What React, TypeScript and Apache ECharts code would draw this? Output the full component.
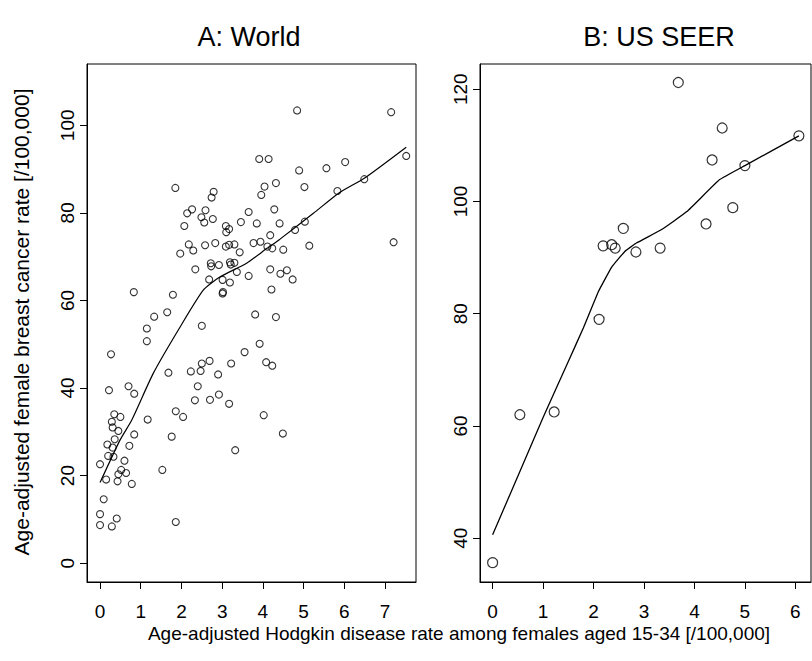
import React, { useEffect, useRef } from "react";
import * as echarts from "echarts";

// Panel A: World — Hodgkin disease rate (x) vs breast cancer rate (y)
const worldHodgkin = [
  4.84, 7.15, 7.52, 3.91, 4.14, 6.02, 5.56, 4.89, 6.49, 4.32, 4.04, 5.02, 1.85, 2.79, 2.74, 3.96, 5.83,
  2.26, 2.14, 2.59, 3.65, 4.28, 2.49, 2.77, 2.56, 2.07, 3.46, 3.85, 4.41, 5.03, 3.09, 3.17, 3.10, 4.79,
  4.18, 7.21, 2.18, 2.58, 2.83, 3.09, 3.17, 3.30, 3.77, 3.94, 4.11, 4.23, 4.50, 5.14, 1.97, 2.29, 3.43,
  2.72, 2.73, 2.92, 3.19, 3.21, 3.30, 2.34, 3.36, 3.65, 4.18, 4.59, 4.43, 4.73, 2.68, 3.01, 3.19, 4.21,
  3.01, 3.02, 0.83, 1.79, 1.65, 1.33, 3.81, 4.32, 2.50, 1.15, 1.15, 3.92, 0.27, 3.55, 2.69, 2.50, 3.22,
  4.08, 4.23, 1.68, 2.23, 2.47, 2.90, 2.40, 0.70, 0.22, 0.84, 2.33, 2.70, 2.92, 3.17, 1.86, 2.04, 4.02,
  0.35, 0.50, 0.29, 0.31, 0.45, 1.17, 0.84, 1.76, 4.49, 0.36, 0.18, 0.31, 0.20, 0.33, 0.72, 3.32, 0.0,
  0.60, 1.53, 0.52, 0.64, 0.45, 0.15, 0.43, 0.78, 0.09, 0.0, 0.41, 0.0, 0.29, 1.86,
];
const worldBreast = [
  103.4, 103.0, 93.0, 92.3, 92.3, 91.6, 90.2, 89.7, 87.7, 86.8, 86.0, 85.9, 85.7, 84.8, 83.5, 84.1, 85.0,
  80.8, 79.9, 80.6, 80.2, 80.8, 79.0, 78.6, 77.8, 77.0, 77.9, 77.6, 77.6, 78.0, 77.0, 76.3, 75.6, 76.1,
  74.9, 73.3, 72.8, 72.6, 73.1, 72.3, 72.7, 72.8, 73.1, 73.4, 72.3, 71.9, 71.6, 72.5, 70.7, 71.4, 71.0,
  68.5, 67.8, 68.1, 68.7, 68.2, 68.6, 67.1, 66.5, 65.6, 67.1, 66.9, 66.1, 64.8, 64.8, 64.7, 64.1, 62.5,
  61.6, 61.9, 61.9, 61.3, 57.3, 56.3, 56.8, 56.2, 54.2, 53.6, 50.7, 50.1, 47.7, 48.2, 46.2, 45.6, 45.6,
  45.9, 45.1, 43.5, 43.8, 43.9, 43.1, 40.4, 40.4, 39.5, 38.7, 37.2, 37.3, 38.5, 36.4, 34.7, 33.4, 33.8,
  34.0, 33.4, 32.3, 31.0, 30.2, 32.8, 29.4, 28.9, 29.6, 28.3, 27.1, 26.4, 24.5, 24.3, 26.8, 25.8, 22.6,
  23.4, 21.3, 21.3, 20.6, 20.3, 19.1, 18.7, 18.1, 14.6, 11.2, 10.2, 8.7, 8.4, 9.4,
];
// Panel A smoother
const worldSmoothX = [0, 0.49, 0.78, 1.31, 1.97, 2.54, 2.95, 3.6, 4.1, 4.42, 5.24, 5.86, 6.49, 7.52];
const worldSmoothY = [18.4, 28.1, 32.7, 43.4, 54.0, 62.4, 65.4, 68.5, 71.9, 74.0, 79.9, 84.5, 87.9, 95.0];

// Panel B: US SEER
const seerHodgkin = [3.68, 4.55, 6.07, 4.35, 5.0, 4.76, 4.23, 2.59, 2.19, 2.36, 2.43, 2.84, 3.32, 2.11, 0.54, 1.22, 0.0];
const seerBreast = [121.2, 113.1, 111.7, 107.4, 106.4, 98.9, 96.0, 95.2, 92.1, 92.3, 91.7, 91.0, 91.7, 79.0, 62.0, 62.5, 35.65];
const seerSmoothX = [0, 1.0, 1.5, 1.8, 2.1, 2.36, 2.62, 2.85, 3.35, 3.85, 4.5, 5.0, 6.07];
const seerSmoothY = [40.6, 61.5, 71.5, 77.5, 84.0, 88.3, 91.1, 92.6, 95.0, 98.2, 103.9, 106.4, 111.7];

// Tick values
const xTicksA = [0, 1, 2, 3, 4, 5, 6, 7];
const yTicksA = [0, 20, 40, 60, 80, 100];
const xTicksB = [0, 1, 2, 3, 4, 5, 6];
const yTicksB = [40, 60, 80, 100, 120];

const titleA = "A: World";
const titleB = "B: US SEER";
const yTitle = "Age-adjusted female breast cancer rate [/100,000]";
const xTitle = "Age-adjusted Hodgkin disease rate among females aged 15-34 [/100,000]";

const FONT = "'Liberation Sans', Arial, Helvetica, sans-serif";

function pairs(xs: number[], ys: number[]) {
  return xs.map((x, i) => [x, ys[i]]);
}

function xAxisCfg(gridIndex: number, min: number, max: number, ticks: number[]) {
  return {
    type: "value",
    gridIndex,
    min,
    max,
    axisLine: { show: true, onZero: false, lineStyle: { color: "#000", width: 1 } },
    axisTick: { show: true, inside: false, length: 7, customValues: ticks, lineStyle: { color: "#000", width: 1 } },
    axisLabel: { show: true, customValues: ticks, margin: 20, fontSize: 19, color: "#000", fontFamily: FONT },
    splitLine: { show: false },
  };
}

function yAxisCfg(gridIndex: number, min: number, max: number, ticks: number[]) {
  return {
    type: "value",
    gridIndex,
    min,
    max,
    axisLine: { show: true, onZero: false, lineStyle: { color: "#000", width: 1 } },
    axisTick: { show: true, inside: false, length: 7, customValues: ticks, lineStyle: { color: "#000", width: 1 } },
    axisLabel: {
      show: true,
      customValues: ticks,
      rotate: 90,
      margin: 10,
      fontSize: 19,
      color: "#000",
      fontFamily: FONT,
    },
    splitLine: { show: false },
  };
}

export default function App() {
  const ref = useRef<HTMLDivElement>(null);
  useEffect(() => {
    if (!ref.current) return;
    const chart = echarts.init(ref.current, null, { renderer: "svg" });
    const gridStyle = { show: true, borderColor: "#000", borderWidth: 1, backgroundColor: "transparent", containLabel: false };
    chart.setOption({
      animation: false,
      backgroundColor: "#fff",
      grid: [
        { ...gridStyle, left: 87, top: 64, width: 329, height: 518 },
        { ...gridStyle, left: 480, top: 64, width: 331, height: 518 },
      ],
      xAxis: [xAxisCfg(0, -0.32, 7.76, xTicksA), xAxisCfg(1, -0.25, 6.31, xTicksB)],
      yAxis: [yAxisCfg(0, -4.3, 114, yTicksA), yAxisCfg(1, 32.2, 124.5, yTicksB)],
      series: [
        {
          type: "scatter",
          xAxisIndex: 0,
          yAxisIndex: 0,
          data: pairs(worldHodgkin, worldBreast),
          symbol: "circle",
          symbolSize: 7,
          itemStyle: { color: "rgba(0,0,0,0)", borderColor: "#000", borderWidth: 1.1 },
        },
        {
          type: "line",
          xAxisIndex: 0,
          yAxisIndex: 0,
          data: pairs(worldSmoothX, worldSmoothY),
          symbol: "none",
          smooth: 0.2,
          lineStyle: { color: "#000", width: 1.2 },
        },
        {
          type: "scatter",
          xAxisIndex: 1,
          yAxisIndex: 1,
          data: pairs(seerHodgkin, seerBreast),
          symbol: "circle",
          symbolSize: 10,
          itemStyle: { color: "rgba(0,0,0,0)", borderColor: "#000", borderWidth: 1.2 },
        },
        {
          type: "line",
          xAxisIndex: 1,
          yAxisIndex: 1,
          data: pairs(seerSmoothX, seerSmoothY),
          symbol: "none",
          smooth: 0.1,
          lineStyle: { color: "#000", width: 1.3 },
        },
      ],
      graphic: [
        {
          type: "text",
          x: 249,
          y: 37,
          style: { text: titleA, font: `27px ${FONT}`, fill: "#000", textAlign: "center", textVerticalAlign: "middle", align: "center", verticalAlign: "middle" },
        },
        {
          type: "text",
          x: 659,
          y: 37,
          style: { text: titleB, font: `27px ${FONT}`, fill: "#000", textAlign: "center", textVerticalAlign: "middle", align: "center", verticalAlign: "middle" },
        },
        {
          type: "text",
          x: 21,
          y: 322,
          rotation: Math.PI / 2,
          style: { text: yTitle, font: `21px ${FONT}`, fill: "#000", textAlign: "center", textVerticalAlign: "middle", align: "center", verticalAlign: "middle" },
        },
        {
          type: "text",
          x: 459,
          y: 633,
          style: { text: xTitle, font: `19px ${FONT}`, fill: "#000", textAlign: "center", textVerticalAlign: "middle", align: "center", verticalAlign: "middle" },
        },
      ],
    });
    return () => chart.dispose();
  }, []);
  return (
    <div
      ref={ref}
      style={{ position: "fixed", left: 0, top: 0, width: 812, height: 661, background: "#fff" }}
    />
  );
}
